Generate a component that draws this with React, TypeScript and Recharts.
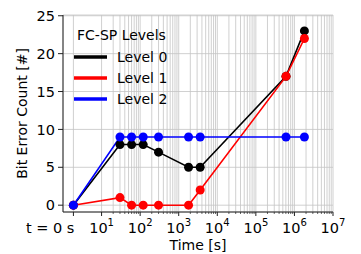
import { LineChart, Line, XAxis, YAxis, CartesianGrid, Legend } from 'recharts'

const times = [0, 30, 60, 120, 300, 1800, 3600, 604800, 1814400]
const level0 = [0, 8, 8, 8, 7, 5, 5, 17, 23]
const level1 = [0, 1, 0, 0, 0, 0, 2, 17, 22]
const level2 = [0, 9, 9, 9, 9, 9, 9, 9, 9]
const seriesNames = ['Level 0', 'Level 1', 'Level 2']
const seriesKeys = ['l0', 'l1', 'l2']
const seriesColors = ['#000000', '#ff0000', '#0000ff']
const yTicks = [0, 5, 10, 15, 20, 25]
const decades = [1, 2, 3, 4, 5, 6, 7]
const minorSteps = [2, 3, 4, 5, 6, 7, 8, 9]

const FONT = '"DejaVu Sans", sans-serif'

// t = 0 sits in the linear part of the symlog-like axis, left of 10^1
const ZERO_POS = 0.27
const toAxis = (t: number) => (t === 0 ? ZERO_POS : Math.log10(t))

const majorTicks = [ZERO_POS, ...decades]
const minorTicks = decades
  .slice(0, -1)
  .flatMap((d) => minorSteps.map((m) => d + Math.log10(m)))
const xTicks = [...majorTicks, ...minorTicks].sort((a, b) => a - b)

const data = times.map((t, i) => ({
  u: toAxis(t),
  l0: level0[i],
  l1: level1[i],
  l2: level2[i]
}))

const makeDot = (color: string) => (props: any) => {
  const { cx, cy, index } = props
  return <circle key={`${color}-${index}`} cx={cx} cy={cy} r={4.5} fill={color} />
}

function XTick(props: any) {
  const { x, y, payload } = props
  const v = payload.value
  const isZero = Math.abs(v - ZERO_POS) < 1e-9
  const isMajor = isZero || Math.abs(v - Math.round(v)) < 1e-9
  return (
    <g>
      <line x1={x} x2={x} y1={y} y2={y + (isMajor ? 4 : 2)} stroke="#222" strokeWidth={isMajor ? 1 : 0.7} />
      {isZero && (
        <text x={x + 1} y={y + 21} textAnchor="end" fontSize={14.5} fontFamily={FONT} fill="#000">
          t = 0 s
        </text>
      )}
      {isMajor && !isZero && (
        <text x={x} y={y + 21} textAnchor="middle" fontSize={14.5} fontFamily={FONT} fill="#000">
          10
          <tspan dy={-7} fontSize={10}>
            {Math.round(v)}
          </tspan>
        </text>
      )}
    </g>
  )
}

function LegendBox() {
  return (
    <svg width={130} height={100} style={{ display: 'block' }}>
      <text x={14} y={25} fontSize={14} fontFamily={FONT} fill="#000">
        FC-SP Levels
      </text>
      {seriesNames.map((name, i) => (
        <g key={name}>
          <line x1={11} x2={44} y1={42 + i * 21} y2={42 + i * 21} stroke={seriesColors[i]} strokeWidth={3.5} />
          <text x={54} y={47 + i * 21} fontSize={14} fontFamily={FONT} fill="#000">
            {name}
          </text>
        </g>
      ))}
    </svg>
  )
}

export default function App() {
  return (
    <div style={{ position: 'absolute', left: 0, top: 0, background: '#fff' }}>
      <LineChart width={361} height={254} data={data} margin={{ top: 15, right: 28, left: 0, bottom: 0 }}>
        <CartesianGrid stroke="#c4c4c4" strokeWidth={0.8} />
        <XAxis
          dataKey="u"
          type="number"
          domain={[0, 7]}
          ticks={xTicks}
          interval={0}
          allowDataOverflow
          height={42}
          tickSize={0}
          tickMargin={0}
          tickLine={false}
          tick={<XTick />}
          axisLine={{ stroke: '#222' }}
          label={(p: any) => (
            <text
              x={p.viewBox.x + p.viewBox.width / 2}
              y={p.viewBox.y + 38}
              textAnchor="middle"
              fontSize={14}
              fontFamily={FONT}
              fill="#000"
            >
              Time [s]
            </text>
          )}
        />
        <XAxis xAxisId="top" orientation="top" type="number" domain={[0, 7]} height={0} tick={false} tickLine={false} axisLine={{ stroke: '#222' }} />
        <YAxis
          type="number"
          domain={[-0.9, 25.1]}
          ticks={yTicks}
          interval={0}
          allowDataOverflow
          width={63}
          tickSize={5}
          tickMargin={3}
          tick={{ fontSize: 14.5, fill: '#000', fontFamily: FONT }}
          tickLine={{ stroke: '#222' }}
          axisLine={{ stroke: '#222' }}
          label={(p: any) => {
            const cx = p.viewBox.x + 21.5
            const cy = p.viewBox.y + p.viewBox.height / 2
            return (
              <text
                x={cx}
                y={cy}
                transform={`rotate(-90 ${cx} ${cy})`}
                textAnchor="middle"
                dominantBaseline="central"
                fontSize={14}
                fontFamily={FONT}
                fill="#000"
              >
                Bit Error Count [#]
              </text>
            )
          }}
        />
        <YAxis yAxisId="right" orientation="right" type="number" domain={[-0.9, 25.1]} width={0} tick={false} tickLine={false} axisLine={{ stroke: '#222' }} />
        {seriesKeys.map((k, i) => (
          <Line
            key={k}
            dataKey={k}
            name={seriesNames[i]}
            type="linear"
            stroke={seriesColors[i]}
            strokeWidth={1.6}
            dot={makeDot(seriesColors[i])}
            activeDot={false}
            isAnimationActive={false}
          />
        ))}
        <Legend
          layout="vertical"
          align="center"
          verticalAlign="middle"
          content={() => <LegendBox />}
          wrapperStyle={{ left: 63, top: 15, width: 130, height: 100, pointerEvents: 'none' }}
        />
      </LineChart>
    </div>
  )
}
